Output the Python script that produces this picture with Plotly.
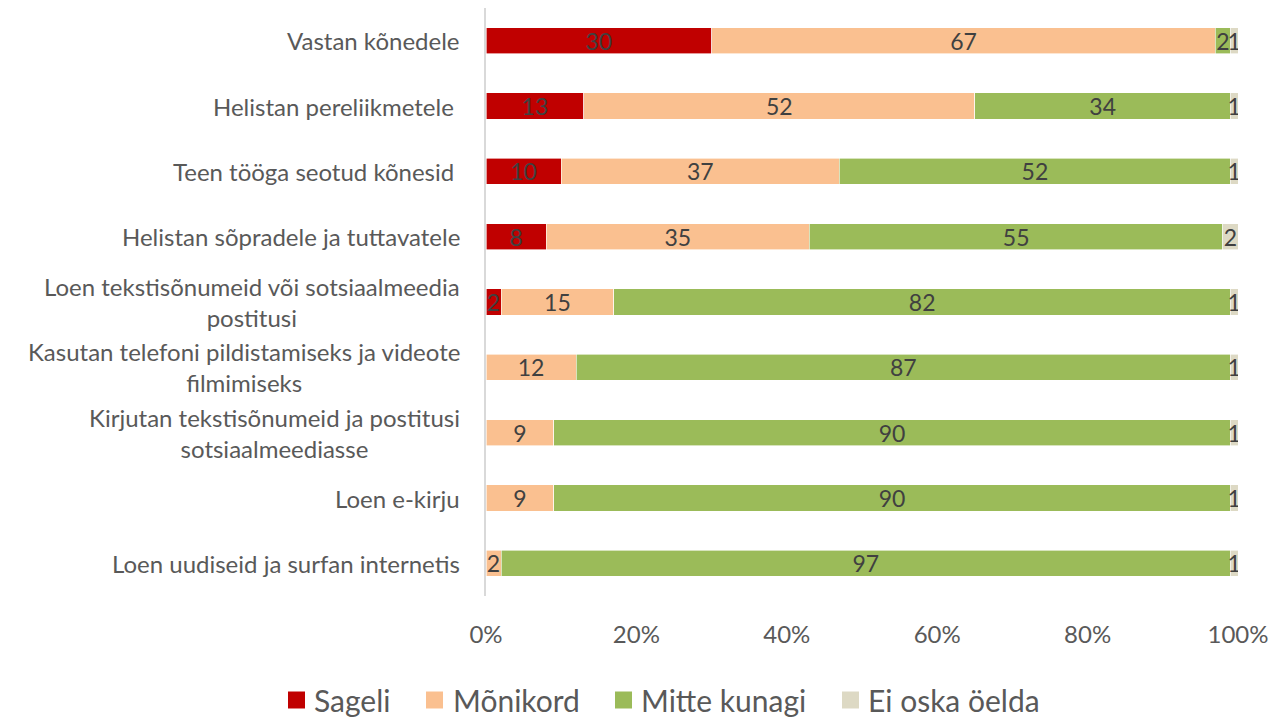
import plotly.graph_objects as go

categories = [
    "Vastan kõnedele",
    "Helistan pereliikmetele ",
    "Teen tööga seotud kõnesid ",
    "Helistan sõpradele ja tuttavatele",
    "Loen tekstisõnumeid või sotsiaalmeedia<br>postitusi",
    "Kasutan telefoni pildistamiseks ja videote<br>filmimiseks",
    "Kirjutan tekstisõnumeid ja postitusi<br>sotsiaalmeediasse",
    "Loen e-kirju",
    "Loen uudiseid ja surfan internetis",
]
sageli = [30, 13, 10, 8, 2, 0, 0, 0, 0]
monikord = [67, 52, 37, 35, 15, 12, 9, 9, 2]
mitte_kunagi = [2, 34, 52, 55, 82, 87, 90, 90, 97]
ei_oska = [1, 1, 1, 2, 1, 1, 1, 1, 1]
tick_values = [0, 20, 40, 60, 80, 100]
tick_labels = ["0%", "20%", "40%", "60%", "80%", "100%"]

series_names = ["Sageli", "Mõnikord", "Mitte kunagi", "Ei oska öelda"]
series_values = [sageli, monikord, mitte_kunagi, ei_oska]
series_colors = ["#C00000", "#FAC090", "#9BBB59", "#DDD9C4"]

FONT = "Lato"
W, H = 1274, 709
ML, MR, MT, MB = 478, 44, 0, 121
PW, PH = W - ML - MR, H - MT - MB

fig = go.Figure()
for name, vals, color in zip(series_names, series_values, series_colors):
    fig.add_trace(go.Bar(
        name=name, y=categories, x=vals, orientation="h",
        marker=dict(color=color, line=dict(color="white", width=0.6)),
        text=[str(v) if v > 0 else "" for v in vals],
        textposition="inside", insidetextanchor="middle",
        textangle=0, constraintext="none",
        textfont=dict(family=FONT, size=23, color="#404040"),
        hovertemplate=name + ": %{x}<extra></extra>",
        showlegend=False,
    ))

for cat in categories:
    fig.add_annotation(
        xref="paper", yref="y", x=0, y=cat, text=cat,
        showarrow=False, xanchor="right", yanchor="middle",
        align="center", xshift=-24,
        font=dict(family=FONT, size=24, color="#595959"),
    )

# manual legend (layout positions in figure pixels)
legend_square_px = [280, 418, 607, 834]
legend_text_px = [305, 444, 632, 859]
legend_y_px = 692
sq = 17


def px_to_paper_x(px):
    return (px - ML) / PW


def px_to_paper_y(py):
    return (MT + PH - py) / PH


for name, color, sx, tx in zip(series_names, series_colors, legend_square_px, legend_text_px):
    fig.add_shape(
        type="rect", xref="paper", yref="paper",
        x0=px_to_paper_x(sx), x1=px_to_paper_x(sx + sq),
        y0=px_to_paper_y(legend_y_px + sq / 2), y1=px_to_paper_y(legend_y_px - sq / 2),
        fillcolor=color, line=dict(width=0),
    )
    fig.add_annotation(
        xref="paper", yref="paper", x=px_to_paper_x(tx), y=px_to_paper_y(legend_y_px),
        text=name, showarrow=False, xanchor="left", yanchor="middle",
        font=dict(family=FONT, size=30, color="#595959"),
        borderpad=0,
    )

fig.update_layout(
    barmode="stack",
    bargap=0.6,
    width=W, height=H,
    margin=dict(l=ML, r=MR, t=MT, b=MB),
    plot_bgcolor="white", paper_bgcolor="white",
    uniformtext=dict(minsize=23, mode="show"),
    showlegend=False,
    xaxis=dict(
        range=[0, 100], tickmode="array", tickvals=tick_values, ticktext=tick_labels,
        showgrid=False, zeroline=False, showline=False,
        tickfont=dict(family=FONT, size=24, color="#595959"),
        ticklabelstandoff=22,
    ),
    yaxis=dict(
        autorange="reversed", showticklabels=False, showgrid=False,
        showline=True, linecolor="#D9D9D9", linewidth=2, zeroline=False,
    ),
)

fig.write_html("out.html")
